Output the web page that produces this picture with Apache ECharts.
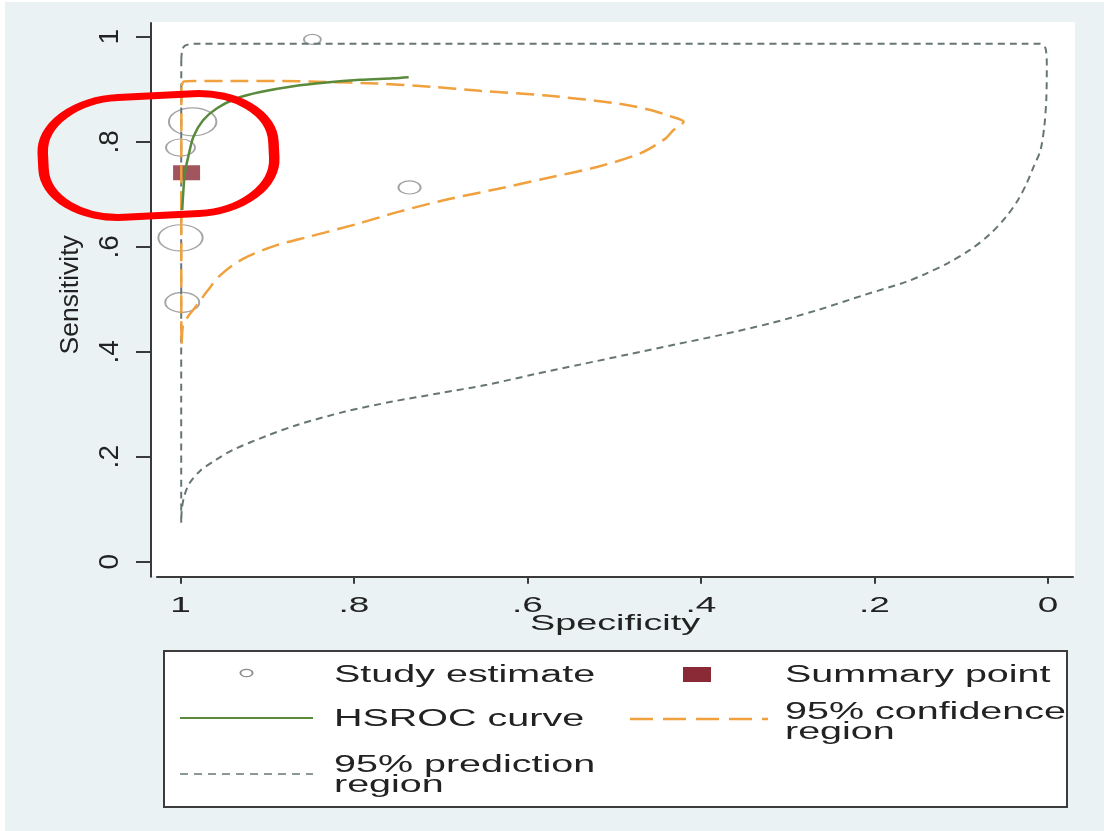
<!DOCTYPE html>
<html>
<head>
<meta charset="utf-8">
<script src="https://cdn.jsdelivr.net/npm/echarts@6/dist/echarts.min.js"></script>
<style>
  html, body { margin: 0; padding: 0; background: #ffffff; }
  #chart { width: 1104px; height: 831px; }
</style>
</head>
<body>
<div id="chart"></div>
<script>
// Tick values used on both axes and the way they are printed
const TICK_VALUES = [0, 0.2, 0.4, 0.6, 0.8, 1];
const TICK_LABELS = ['0', '.2', '.4', '.6', '.8', '1'];

// Individual studies: specificity, sensitivity, relative weight
const STUDY_SPEC = [0.848, 0.986, 1.0, 1.0, 0.998, 0.736];
const STUDY_SENS = [0.995, 0.838, 0.789, 0.617, 0.494, 0.713];
const STUDY_WEIGHT = [1.0, 7.8, 2.9, 6.8, 4.0, 1.7];

// Summary operating point
const SUMMARY_SPEC = [0.993];
const SUMMARY_SENS = [0.741];

// HSROC curve
const HSROC_SPEC = [0.998, 0.997, 0.995, 0.991, 0.985, 0.974, 0.958, 0.935, 0.908, 0.870, 0.832, 0.793, 0.755, 0.737];
const HSROC_SENS = [0.670, 0.699, 0.740, 0.772, 0.810, 0.841, 0.864, 0.883, 0.895, 0.906, 0.913, 0.918, 0.921, 0.923];

// 95% confidence region (closed contour)
const CONF_SPEC = [0.999, 0.996, 0.985, 0.928, 0.889, 0.831, 0.774, 0.712, 0.655, 0.578, 0.501, 0.462, 0.436, 0.420,
                   0.432, 0.441, 0.470, 0.520, 0.577, 0.635, 0.693, 0.750, 0.793, 0.850, 0.889, 0.928, 0.954, 0.969,
                   0.981, 0.991, 0.997, 0.9987, 0.9991, 0.9991, 0.9990, 0.999];
const CONF_SENS = [0.906, 0.915, 0.916, 0.916, 0.916, 0.914, 0.911, 0.905, 0.897, 0.888, 0.874, 0.862, 0.849, 0.838,
                   0.822, 0.806, 0.778, 0.752, 0.731, 0.710, 0.690, 0.666, 0.645, 0.620, 0.603, 0.577, 0.546, 0.516,
                   0.489, 0.468, 0.451, 0.412, 0.539, 0.729, 0.842, 0.906];

// 95% prediction region (closed contour)
const PRED_SPEC = [0.9991, 0.9977, 0.9937, 0.9833, 0.805, 0.401, 0.0242, 0.0092, 0.0029, 0.0014, 0.0020, 0.0043,
                   0.0087, 0.0167, 0.0246, 0.0346, 0.0484, 0.0669, 0.0899, 0.1153, 0.1418, 0.1637, 0.2121, 0.2663,
                   0.3205, 0.3747, 0.4289, 0.4837, 0.5381, 0.5925, 0.6469, 0.7013, 0.7557, 0.8101, 0.8646, 0.9003,
                   0.9395, 0.9591, 0.9775, 0.9902, 0.9960, 0.9985, 0.9992, 0.9992, 0.9992, 0.9991];
const PRED_SENS = [0.956, 0.977, 0.984, 0.987, 0.987, 0.987, 0.987, 0.987, 0.978, 0.943, 0.880, 0.829,
                   0.784, 0.752, 0.721, 0.689, 0.657, 0.624, 0.594, 0.569, 0.548, 0.533, 0.508, 0.479,
                   0.454, 0.433, 0.414, 0.395, 0.376, 0.357, 0.337, 0.321, 0.305, 0.286, 0.261, 0.240,
                   0.213, 0.194, 0.173, 0.148, 0.123, 0.099, 0.074, 0.308, 0.689, 0.956];

// Series names and the wrapped text shown in the key
const SERIES_NAMES = ['Study estimate', 'Summary point', 'HSROC curve', '95% confidence region', '95% prediction region'];
const LEGEND_LABELS = ['Study estimate', 'Summary point', 'HSROC curve', '95% confidence\nregion', '95% prediction\nregion'];

const AXIS_X_NAME = 'Specificity';
const AXIS_Y_NAME = 'Sensitivity';

// ---------------------------------------------------------------------------
const FONT = "'Liberation Sans', Arial, Helvetica, sans-serif";
const TEXT = '#222222';
const AXIS = '#3a3a3a';
const C_STUDY = '#8c8c8c';
const C_SUMMARY = '#8a2a36';
const C_HSROC = '#5a8a3c';
const C_CONF = '#f0a03c';
const C_PRED = '#677575';
const TEXT_WIDEN = 1.68;   // horizontal text is drawn wide

const zip = (a, b) => a.map((v, i) => [v, b[i]]);
const tickLabel = v => {
  const i = TICK_VALUES.findIndex(t => Math.abs(t - v) < 1e-9);
  return i >= 0 ? TICK_LABELS[i] : '';
};

const chart = echarts.init(document.getElementById('chart'), null, { renderer: 'canvas' });

// key (legend) drawn as a framed block below the plot
function keyElements() {
  const els = [];
  els.push({ type: 'rect', z: 10, silent: true,
    shape: { x: 164, y: 651, width: 903, height: 156 },
    style: { fill: '#ffffff', stroke: '#3c3c3c', lineWidth: 2 } });
  // markers / line samples
  els.push({ type: 'circle', z: 11, silent: true, x: 246.5, y: 673, scaleX: 1.7,
    shape: { cx: 0, cy: 0, r: 3.6 }, style: { fill: 'rgba(0,0,0,0)', stroke: C_STUDY, lineWidth: 1.1 } });
  els.push({ type: 'rect', z: 11, silent: true,
    shape: { x: 683, y: 667, width: 28, height: 15 }, style: { fill: C_SUMMARY } });
  els.push({ type: 'line', z: 11, silent: true,
    shape: { x1: 180, y1: 718, x2: 313, y2: 718 }, style: { stroke: C_HSROC, lineWidth: 2 } });
  els.push({ type: 'line', z: 11, silent: true,
    shape: { x1: 630, y1: 719, x2: 768, y2: 719 }, style: { stroke: C_CONF, lineWidth: 2.5, lineDash: [23, 10] } });
  els.push({ type: 'line', z: 11, silent: true,
    shape: { x1: 180, y1: 774, x2: 313, y2: 774 }, style: { stroke: C_PRED, lineWidth: 1.6, lineDash: [8, 6] } });
  // labels
  const pos = [
    { x: 334, y: 676, va: 'middle' },
    { x: 785, y: 676, va: 'middle' },
    { x: 334, y: 720, va: 'middle' },
    { x: 785, y: 703, va: 'top' },
    { x: 334, y: 756, va: 'top' }
  ];
  LEGEND_LABELS.forEach((t, i) => {
    els.push({ type: 'text', z: 11, silent: true, x: pos[i].x, y: pos[i].y, scaleX: TEXT_WIDEN,
      style: { text: t, fontSize: 23.5, fontFamily: FONT, fill: TEXT, align: 'left',
               verticalAlign: pos[i].va, lineHeight: 20 } });
  });
  return els;
}

const option = {
  animation: false,
  backgroundColor: '#ffffff',
  grid: { left: 157, right: 31, top: 23, bottom: 254.3, outerBoundsMode: 'none', containLabel: false },
  xAxis: {
    type: 'value', inverse: true, min: -0.0288, max: 1.0271,
    splitLine: { show: false },
    axisLine: { show: true, onZero: false, lineStyle: { color: AXIS, width: 2 } },
    axisTick: { show: true, length: 7, customValues: TICK_VALUES, lineStyle: { color: AXIS, width: 2 } },
    axisLabel: { customValues: TICK_VALUES, formatter: tickLabel, margin: 18,
                 fontSize: 22, fontFamily: FONT, color: TEXT },
    name: AXIS_X_NAME, nameLocation: 'middle', nameGap: 36, nameMoveOverlap: false,
    nameTextStyle: { fontSize: 22.5, fontFamily: FONT, color: TEXT }
  },
  yAxis: {
    type: 'value', min: -0.0286, max: 1.0263, offset: 6,
    splitLine: { show: false },
    axisLine: { show: true, onZero: false, lineStyle: { color: AXIS, width: 2 } },
    axisTick: { show: true, length: 15, customValues: TICK_VALUES, lineStyle: { color: AXIS, width: 2 } },
    axisLabel: { customValues: TICK_VALUES, formatter: tickLabel, rotate: 90, margin: 27,
                 fontSize: 28, fontFamily: FONT, color: TEXT },
    name: AXIS_Y_NAME, nameLocation: 'middle', nameGap: 67, nameMoveOverlap: false,
    nameTextStyle: { fontSize: 26.5, fontFamily: FONT, color: TEXT, padding: [0, 0, 0, 10] }
  },
  graphic: [
    { type: 'rect', z: -20, silent: true, shape: { x: 5, y: 2, width: 1099, height: 829 }, style: { fill: '#eaf2f3' } },
    { type: 'rect', z: -10, silent: true, shape: { x: 152, y: 22, width: 923, height: 554 }, style: { fill: '#ffffff' } },
    ...keyElements(),
    { type: 'rect', z: 50, silent: true, x: 158.5, y: 155.5, rotation: 0.05, scaleX: 1.5,
      shape: { x: -77, y: -60, width: 154, height: 120, r: 52 },
      style: { fill: 'rgba(0,0,0,0)', stroke: '#ff0000', lineWidth: 7 } }
  ],
  series: [
    {
      name: SERIES_NAMES[0], type: 'scatter', z: 2,
      data: STUDY_SPEC.map((s, i) => [s, STUDY_SENS[i], STUDY_WEIGHT[i]]),
      symbol: 'circle',
      symbolSize: d => { const h = 10 * Math.sqrt(d[2]); return [h * 1.7, h]; },
      itemStyle: { color: 'rgba(0,0,0,0)', borderColor: C_STUDY, borderWidth: 1.5 }
    },
    {
      name: SERIES_NAMES[1], type: 'scatter', z: 3,
      data: zip(SUMMARY_SPEC, SUMMARY_SENS),
      symbol: 'rect', symbolSize: [27, 15],
      itemStyle: { color: C_SUMMARY }
    },
    {
      name: SERIES_NAMES[2], type: 'line', z: 6, symbol: 'none', smooth: 0.3,
      data: zip(HSROC_SPEC, HSROC_SENS),
      lineStyle: { color: C_HSROC, width: 2.5 }
    },
    {
      name: SERIES_NAMES[3], type: 'line', z: 5, symbol: 'none', smooth: 0.3,
      data: zip(CONF_SPEC, CONF_SENS),
      lineStyle: { color: C_CONF, width: 2.5, type: [18, 8] }
    },
    {
      name: SERIES_NAMES[4], type: 'line', z: 4, symbol: 'none', smooth: 0.3,
      data: zip(PRED_SPEC, PRED_SENS),
      lineStyle: { color: C_PRED, width: 2, type: [7, 5] }
    }
  ]
};

chart.setOption(option);

// Horizontal axis text is rendered wide, like the key text.
function widenAxisText() {
  const wanted = new Set(TICK_LABELS.concat([AXIS_X_NAME]));
  const zr = chart.getZr();
  const visit = el => {
    if (el && el.type === 'text' && el.style && wanted.has(String(el.style.text)) && !el.rotation) {
      el.scaleX = TEXT_WIDEN;
      if (el.markRedraw) el.markRedraw();
    }
  };
  zr.storage.getRoots().forEach(root => {
    if (root.traverse) root.traverse(visit); else visit(root);
  });
  zr.refresh();
}
widenAxisText();
chart.on('finished', widenAxisText);
</script>
</body>
</html>
